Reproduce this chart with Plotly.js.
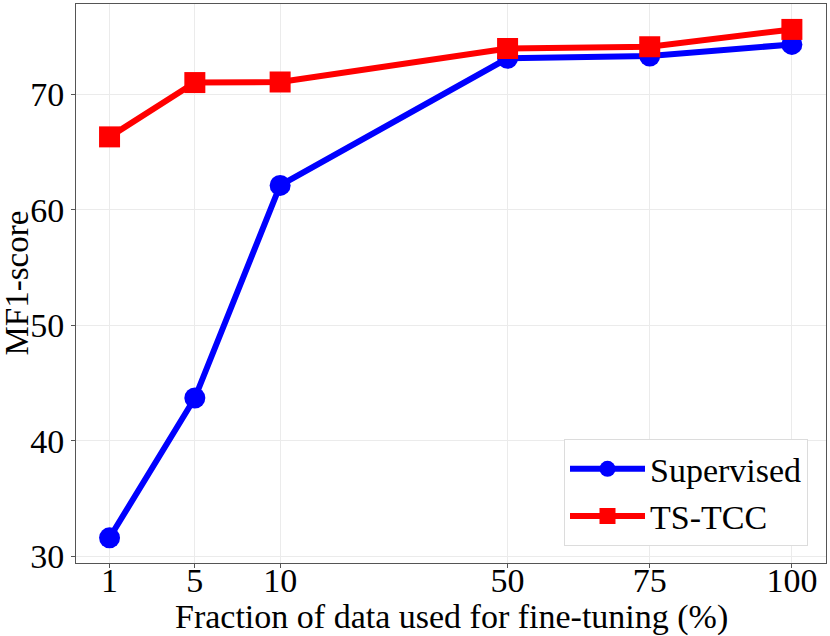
<!DOCTYPE html>
<html>
<head>
<meta charset="utf-8">
<script src="https://cdn.plot.ly/plotly-3.0.1.min.js"></script>
<style>
  html, body { margin: 0; padding: 0; background: #fff; }
  #chart { width: 830px; height: 636px; }
</style>
</head>
<body>
<div id="chart"></div>
<script>
// fraction of labelled data (%) used for fine-tuning
const fractionLabels = ['1', '5', '10', '50', '75', '100'];
// the original figure spaces 1, 5, 10 evenly, then 10..100 linearly
const fractionPos = [-20, -5, 10, 50, 75, 100];
const supervised = [31.6, 43.7, 62.1, 73.1, 73.3, 74.3];
const tsTcc = [66.3, 71.0, 71.05, 73.95, 74.1, 75.6];

const fontFam = '"Liberation Serif", "Times New Roman", serif';

const supTrace = {
    x: fractionPos,
    y: supervised,
    name: 'Supervised',
    mode: 'lines+markers',
    line: {color: '#0000ff', width: 6},
    marker: {color: '#0000ff', size: 21, symbol: 'circle'}
};
const tccTrace = {
    x: fractionPos,
    y: tsTcc,
    name: 'TS-TCC',
    mode: 'lines+markers',
    line: {color: '#ff0000', width: 6},
    marker: {color: '#ff0000', size: 21, symbol: 'square'}
};

const layout = {
    width: 830,
    height: 636,
    margin: {l: 76, r: 4, t: 4, b: 73},
    paper_bgcolor: '#fff',
    plot_bgcolor: '#fff',
    font: {family: fontFam, size: 34, color: '#000'},
    xaxis: {
        range: [-25.9, 106],
        tickmode: 'array',
        tickvals: fractionPos,
        ticktext: fractionLabels,
        showgrid: true,
        gridcolor: '#ebebeb',
        gridwidth: 1,
        zeroline: false,
        showline: true,
        linecolor: '#555',
        linewidth: 1,
        mirror: true,
        ticks: 'outside',
        ticklen: 4,
        tickcolor: '#555',
        tickfont: {size: 34},
        ticklabelstandoff: -17
    },
    yaxis: {
        range: [29.42, 77.8],
        tickvals: [30, 40, 50, 60, 70],
        showgrid: true,
        gridcolor: '#ebebeb',
        gridwidth: 1,
        zeroline: false,
        showline: true,
        linecolor: '#555',
        linewidth: 1,
        mirror: true,
        ticks: 'outside',
        ticklen: 4,
        tickcolor: '#555',
        tickfont: {size: 34}
    },
    // axis titles placed as annotations so they sit where the original puts them
    annotations: [
        {
            text: 'Fraction of data used for fine-tuning (%)',
            xref: 'paper', yref: 'paper',
            x: 0.5, y: -0.096,
            xanchor: 'center', yanchor: 'middle',
            showarrow: false,
            font: {size: 34}
        },
        {
            text: 'MF1-score',
            xref: 'paper', yref: 'paper',
            x: -0.1013, y: 0.5,
            xanchor: 'left', yanchor: 'middle',
            xshift: -3,
            borderpad: 0,
            textangle: -90,
            showarrow: false,
            font: {size: 33}
        }
    ],
    legend: {
        x: 0.976,
        y: 0.03,
        xanchor: 'right',
        yanchor: 'bottom',
        bgcolor: '#fff',
        bordercolor: '#dcdcdc',
        borderwidth: 1,
        itemwidth: 75,
        font: {size: 34}
    },
    showlegend: true
};

Plotly.newPlot('chart', [supTrace, tccTrace], layout, {displayModeBar: false, responsive: false});
</script>
</body>
</html>
